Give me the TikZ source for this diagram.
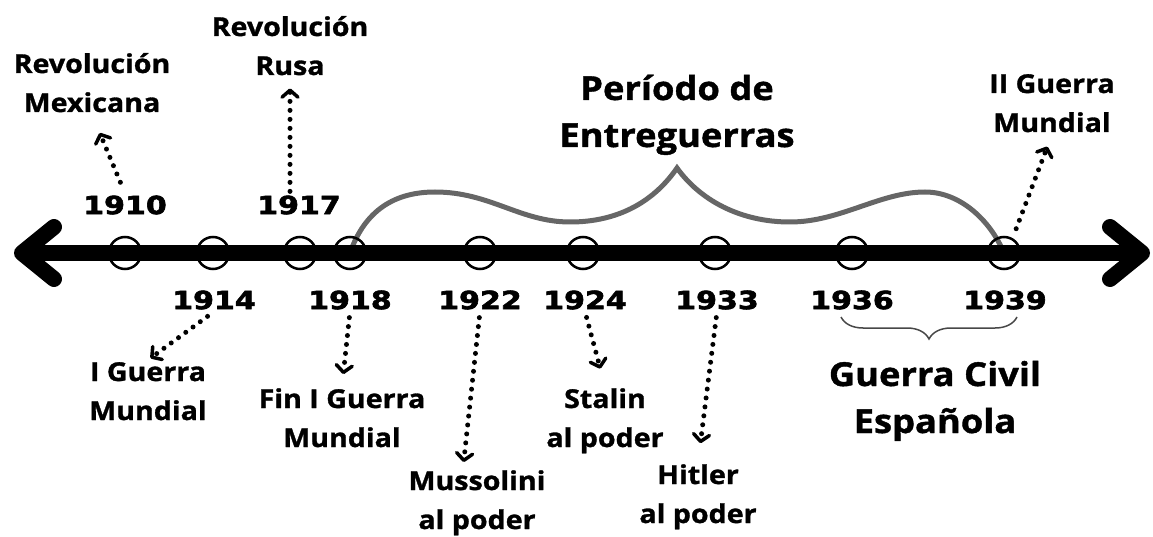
\documentclass[tikz,border=0pt]{standalone}
\usepackage{fontspec}
\setmainfont{Open Sans}[BoldFeatures={FakeBold=1.2, FakeStretch=1.1}]
\newfontfamily\yearfont[FakeStretch=1.2, BoldFeatures={FakeBold=2.5}]{DejaVu Sans}
\usetikzlibrary{arrows.meta,decorations.pathreplacing}
\definecolor{braceg}{HTML}{666666}
\tikzset{% 
  timeline/.style = {line width=16pt,
    {Straight Barb[length=32pt,width=52pt,round]}-{Straight Barb[length=32pt,width=52pt,round]}},
  dot/.style = {circle, draw, line width=2.5pt, minimum size=32pt, inner sep=0pt},
  year/.style = {font=\yearfont\bfseries\fontsize{25}{25}\selectfont, inner sep=2pt},
  event/.style = {font=\bfseries\fontsize{26}{39}\selectfont, align=center,
    anchor=base, inner sep=2pt},
  big/.style = {event, font=\bfseries\fontsize{33}{47}\selectfont},
  pointer/.style = {line width=5pt, line cap=round, dash pattern=on 0pt off 9pt,
    -{Straight Barb[length=7pt,width=16pt,line width=3.5pt,round]}},
  period/.style = {draw=braceg, line width=5pt},
  civil/.style = {draw=braceg!120, line width=1.5pt, decorate,
    decoration={brace, amplitude=22pt}}
}

\begin{document}
\begin{tikzpicture}[x=1pt, y=-1pt]
  \useasboundingbox (0,0) rectangle (1153,537);
  \coordinate (lft) at (14,253);
  \coordinate (rgt) at (1150,253);
  \coordinate (peak) at (677,168);
  \foreach \yr/\x in {1910/125, 1914/213, 1917/300, 1918/350, 1922/480,
                      1924/583, 1933/715, 1936/852, 1939/1004}
    \coordinate (p\yr) at (\x,253);

  \draw[period] (p1918) .. controls (365,210) and (395,192) .. (435,192)
    .. controls (490,192) and (520,222) .. (570,222)
    .. controls (620,222) and (655,200) .. (peak)
    .. controls (700,200) and (740,222) .. (790,222)
    .. controls (840,222) and (880,192) .. (925,192)
    .. controls (960,192) and (990,220) .. (p1939);

  \draw[timeline] (lft) -- (rgt);

  \foreach \yr in {1910,1914,1917,1918,1922,1924,1933,1936,1939}
    \node[dot] (c\yr) at (p\yr) {};

  \foreach \yr/\x in {1910/125, 1917/299}
    \node[year] (y\yr) at (\x,205) {\yr};
  \foreach \yr/\x in {1914/214, 1918/350, 1922/480, 1924/585, 1933/717,
                      1936/852, 1939/1005}
    \node[year] (y\yr) at (\x,300) {\yr};

  \node[event] (revmex) at (92,112) {Revolución\\Mexicana};
  \node[event] (revrus) at (290,75) {Revolución\\Rusa};
  \node[big] (entre) at (677,147) {Período de\\Entreguerras};
  \node[event] (iiguerra) at (1052,132) {II Guerra\\Mundial};
  \node[event] (iguerra) at (148,420) {I Guerra\\Mundial};
  \node[event] (finguerra) at (342,447) {Fin I Guerra\\Mundial};
  \node[event] (muss) at (477,529) {Mussolini\\al poder};
  \node[event] (stalin) at (605,447) {Stalin\\al poder};
  \node[event] (hitler) at (698,523) {Hitler\\al poder};
  \node[big] (civil) at (935,433) {Guerra Civil\\Española};

  \coordinate (cwl) at (841,317);
  \coordinate (cwr) at (1017,317);
  \draw[civil] (cwr) -- (cwl);

  \draw[pointer, shorten <=12pt, shorten >=20pt] (y1910.north) -- (revmex.south);
  \draw[pointer, shorten <=2pt, shorten >=11pt] (revrus.south |- y1917.north) -- (revrus.south);
  \draw[pointer, shorten <=8pt, shorten >=3pt] (y1914.south) -- (iguerra.north);
  \draw[pointer, shorten <=6pt, shorten >=12pt] (y1918.south) -- (finguerra.north);
  \draw[pointer, shorten <=6pt, shorten >=6pt] (y1922.south) -- ([xshift=-14pt]muss.north);
  \draw[pointer, shorten <=6pt, shorten >=18pt] (y1924.south) -- (stalin.north);
  \draw[pointer, shorten <=6pt, shorten >=19pt] (y1933.south) -- (hitler.north);
  \draw[pointer, shorten <=10pt, shorten >=13pt] (c1939.60) -- (iiguerra.south);
\end{tikzpicture}
\end{document}
